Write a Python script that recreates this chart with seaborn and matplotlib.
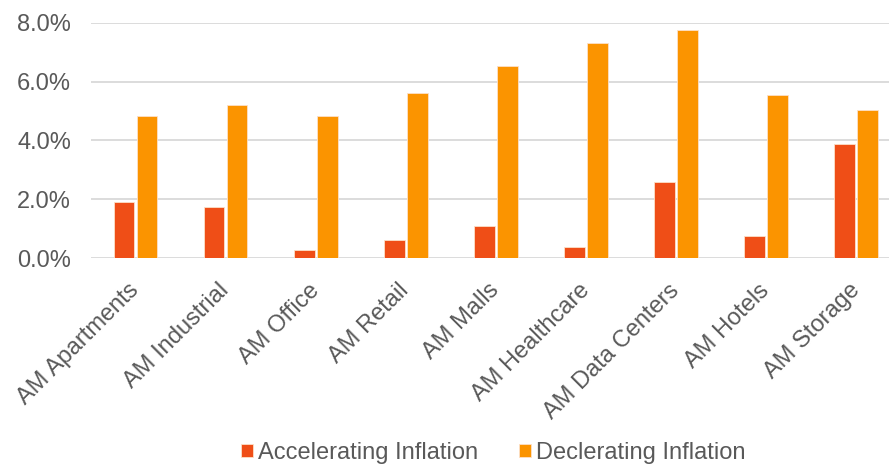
import matplotlib
matplotlib.use("Agg")
import matplotlib.pyplot as plt
import seaborn as sns
import pandas as pd
from matplotlib.ticker import FuncFormatter

categories = ["AM Apartments", "AM Industrial", "AM Office", "AM Retail", "AM Malls",
              "AM Healthcare", "AM Data Centers", "AM Hotels", "AM Storage"]
accelerating = [1.90, 1.75, 0.27, 0.61, 1.09, 0.37, 2.59, 0.76, 3.89]
decelerating = [4.83, 5.21, 4.84, 5.60, 6.54, 7.31, 7.74, 5.56, 5.03]
series_names = ["Accelerating Inflation", "Declerating Inflation"]
yticks = [0, 2, 4, 6, 8]

df = pd.DataFrame({
    "category": categories * 2,
    "value": accelerating + decelerating,
    "series": [series_names[0]] * len(categories) + [series_names[1]] * len(categories),
})

sns.set_theme(style="white")
plt.rcParams["font.family"] = ["Liberation Sans", "DejaVu Sans"]

text_color = "#595959"
fig = plt.figure(figsize=(8.89, 4.65), dpi=100)
ax = fig.add_axes([0.102, 0.445, 0.9117, 0.506])

sns.barplot(data=df, x="category", y="value", hue="series", order=categories,
            hue_order=series_names, palette=["#EF4E17", "#FB9400"], saturation=1,
            width=0.51, gap=0.11, ax=ax, legend=True,
            edgecolor="#FDE0C8", linewidth=0.6)

ax.set_ylim(0, 8)
ax.set_yticks(yticks)
ax.yaxis.set_major_formatter(FuncFormatter(lambda v, p: f"{v:.1f}%"))
ax.grid(axis="y", color="#D9D9D9", linewidth=1.3)
ax.set_axisbelow(True)
for s in ax.spines.values():
    s.set_visible(False)
ax.set_xlabel("")
ax.set_ylabel("")
ax.tick_params(axis="y", length=0, pad=14, labelsize=17, labelcolor=text_color)
ax.tick_params(axis="x", length=0, pad=21, labelsize=17, labelcolor=text_color)
ax.set_xlim(-0.5, len(categories) - 0.5)
for lab in ax.get_xticklabels():
    lab.set_rotation(45)
    lab.set_ha("right")
    lab.set_va("center")
    lab.set_rotation_mode("anchor")

handles, labels = ax.get_legend_handles_labels()
ax.get_legend().remove()
fig.legend(handles, labels, loc="center", bbox_to_anchor=(0.555, 0.026), ncol=2,
           frameon=False, fontsize=17, labelcolor=text_color,
           handlelength=0.5, handleheight=0.5, handletextpad=0.2, columnspacing=1.75)

fig.savefig("out.png", dpi=100)
